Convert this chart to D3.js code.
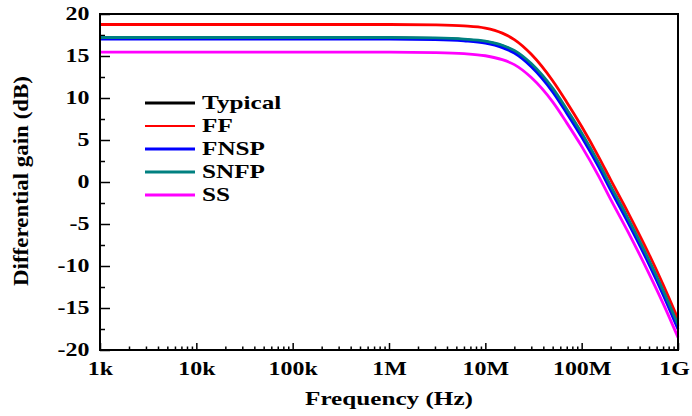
<!DOCTYPE html>
<html>
<head>
<meta charset="utf-8">
<script src="https://cdn.jsdelivr.net/npm/d3@7"></script>
<style>
  body { margin: 0; background: #fff; }
  svg text { font-family: "Liberation Serif", "Times New Roman", serif; font-weight: bold; }
  .axis path { display: none; }
  .axis line { stroke: #000; stroke-width: 1.5; }
</style>
</head>
<body>
<svg width="692" height="416"></svg>
<script>
// frequency points (Hz) and gain (dB)
const freq = [1e3, 1e4, 1e5, 1e6, 3e6, 6e6, 1e7, 1.5e7, 2e7, 3e7, 5e7, 7e7, 1e8, 1.5e8, 2e8, 3e8, 5e8, 7e8, 1e9];
const typical = [17.15, 17.15, 17.15, 17.15, 17.1, 16.96, 16.7, 16.2, 15.55, 13.95, 11.0, 8.5, 5.65, 2.1, -0.65, -4.45, -9.5, -13.1, -17.2];
const ff      = [18.75, 18.75, 18.75, 18.75, 18.7, 18.58, 18.32, 17.72, 16.95, 15.2, 12.05, 9.5, 6.6, 3.0, 0.25, -3.55, -8.6, -12.2, -16.3];
const fnsp    = [17.0, 17.0, 17.0, 17.0, 16.95, 16.8, 16.53, 16.0, 15.35, 13.73, 10.73, 8.2, 5.35, 1.8, -0.97, -4.75, -9.8, -13.4, -17.52];
const snfp    = [17.2, 17.2, 17.2, 17.2, 17.15, 17.02, 16.77, 16.28, 15.67, 14.1, 11.17, 8.67, 5.85, 2.3, -0.45, -4.23, -9.3, -12.9, -16.99];
const ss      = [15.45, 15.45, 15.45, 15.45, 15.4, 15.28, 15.03, 14.56, 13.97, 12.43, 9.53, 7.04, 4.24, 0.7, -2.07, -5.85, -10.9, -14.45, -18.5];

const seriesNames = ["Typical", "FF", "FNSP", "SNFP", "SS"];
const seriesColors = ["#000000", "#ff0000", "#0000ff", "#008080", "#ff00ff"];
const seriesData = [typical, ff, fnsp, snfp, ss];

const xTicks = [1e3, 1e4, 1e5, 1e6, 1e7, 1e8, 1e9];
const xTickLabels = ["1k", "10k", "100k", "1M", "10M", "100M", "1G"];
const yTicks = [-20, -15, -10, -5, 0, 5, 10, 15, 20];

const svg = d3.select('svg');
const plotL = 100, plotR = 678, plotT = 14, plotB = 350;
const stretch = 1.33; // the original lettering is wide

const x = d3.scaleLog().domain([1e3, 1e9]).range([plotL, plotR]);
const y = d3.scaleLinear().domain([-20, 20]).range([plotB, plotT]);

// minor ticks
const xMinor = [];
for (let d = 1e3; d < 1e9; d *= 10) {
  for (let k = 2; k <= 9; k++) xMinor.push(d * k);
}
const yMinor = d3.range(-17.5, 20, 5);

svg.append('g')
  .attr('class', 'axis')
  .attr('transform', `translate(0, ${plotB})`)
  .call(d3.axisBottom(x).tickValues(xMinor).tickSizeInner(-3.5).tickSizeOuter(0).tickFormat(''));

svg.append('g')
  .attr('class', 'axis')
  .attr('transform', `translate(0, ${plotB})`)
  .call(d3.axisBottom(x).tickValues(xTicks).tickSizeInner(-7).tickSizeOuter(0).tickPadding(12)
    .tickFormat((d, i) => xTickLabels[i]))
  .selectAll('text')
  .attr('font-size', '18px')
  .attr('fill', '#000')
  .attr('dx', (d, i) => i === xTicks.length - 1 ? -3 : 0)
  .attr('transform', `scale(${stretch},1)`);

svg.append('g')
  .attr('class', 'axis')
  .attr('transform', `translate(${plotL}, 0)`)
  .call(d3.axisLeft(y).tickValues(yMinor).tickSizeInner(-5).tickSizeOuter(0).tickFormat(''));

svg.append('g')
  .attr('class', 'axis')
  .attr('transform', `translate(${plotL}, 0)`)
  .call(d3.axisLeft(y).tickValues(yTicks).tickSizeInner(-10).tickSizeOuter(0).tickPadding(8)
    .tickFormat((d) => String(d)))
  .selectAll('text')
  .attr('font-size', '18px')
  .attr('fill', '#000')
  .attr('transform', `scale(${stretch},1)`);

// curves
const line = d3.line()
  .x((d) => x(d[0]))
  .y((d) => y(d[1]))
  .curve(d3.curveMonotoneX);

seriesData.forEach((vals, i) => {
  svg.append('path')
    .datum(freq.map((f, j) => [f, vals[j]]))
    .attr('fill', 'none')
    .attr('stroke', seriesColors[i])
    .attr('stroke-width', 2.8)
    .attr('d', line);
});

// frame
svg.append('rect')
  .attr('x', plotL)
  .attr('y', plotT)
  .attr('width', plotR - plotL)
  .attr('height', plotB - plotT)
  .attr('fill', 'none')
  .attr('stroke', '#000')
  .attr('stroke-width', 2);

// legend
const legend = svg.append('g').attr('transform', 'translate(145, 103)');
seriesNames.forEach((name, i) => {
  legend.append('line')
    .attr('x1', 0).attr('x2', 50)
    .attr('y1', i * 23).attr('y2', i * 23)
    .attr('stroke', seriesColors[i])
    .attr('stroke-width', i === 1 ? 2 : 3);
  legend.append('text')
    .attr('transform', `translate(57, ${i * 23 + 6}) scale(1.4,1)`)
    .attr('font-size', '18px')
    .text(name);
});

// axis titles
svg.append('text')
  .attr('x', (plotL + plotR) / 2)
  .attr('y', 405)
  .attr('text-anchor', 'middle')
  .attr('font-size', '19px')
  .attr('textLength', 168)
  .attr('lengthAdjust', 'spacingAndGlyphs')
  .text('Frequency (Hz)');

svg.append('text')
  .attr('transform', 'translate(28, 181) rotate(-90)')
  .attr('text-anchor', 'middle')
  .attr('font-size', '20px')
  .attr('textLength', 210)
  .attr('lengthAdjust', 'spacingAndGlyphs')
  .text('Differential gain (dB)');
</script>
</body>
</html>
